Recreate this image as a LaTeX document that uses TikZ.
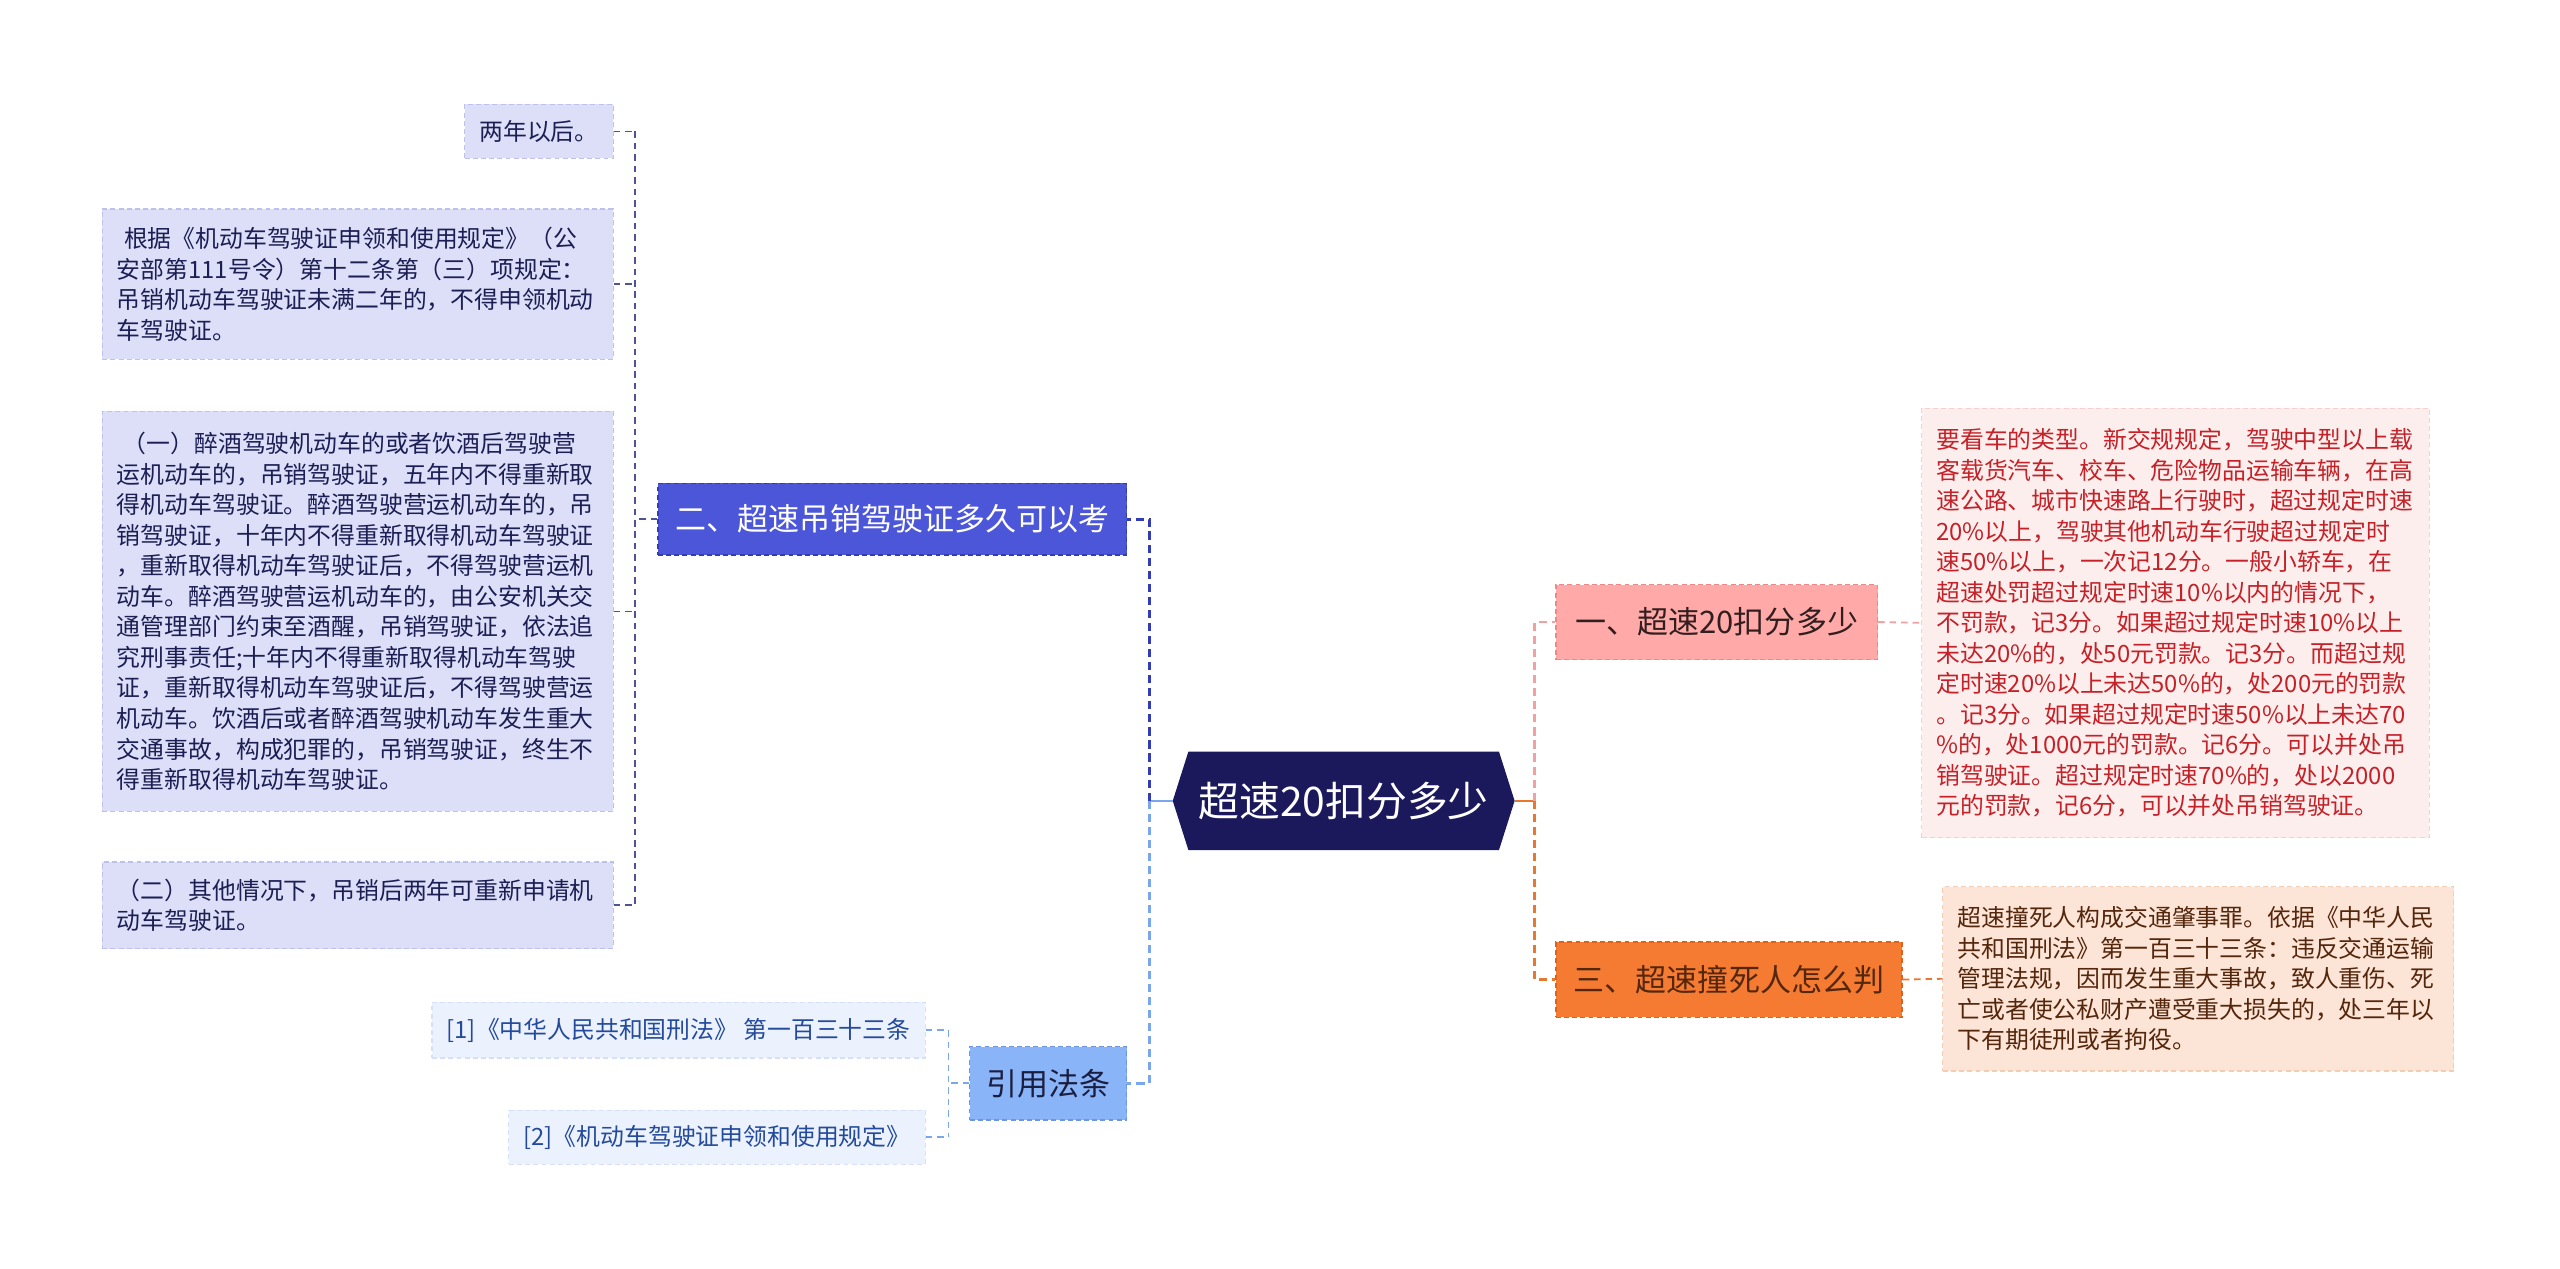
\documentclass[tikz,border=0pt]{standalone}
\usepackage{fontspec}
\usepackage{xcolor}
\usepackage{tikz}
\usetikzlibrary{calc,backgrounds}
\newfontfamily\cjk{Noto Sans CJK SC}
\definecolor{mapNavy}{RGB}{27,25,91}
\definecolor{mapBlue}{RGB}{76,86,216}
\definecolor{mapBlueDark}{RGB}{50,60,180}
\definecolor{mapBracket}{RGB}{78,82,150}
\definecolor{mapLavender}{RGB}{221,223,248}
\definecolor{mapLavenderEdge}{RGB}{190,193,236}
\definecolor{mapInk}{RGB}{28,30,84}
\definecolor{mapSky}{RGB}{138,180,248}
\definecolor{mapSkyDark}{RGB}{108,150,228}
\definecolor{mapSkyLine}{RGB}{122,166,238}
\definecolor{mapSkyLight}{RGB}{235,242,253}
\definecolor{mapSkyEdge}{RGB}{212,225,248}
\definecolor{mapCiteInk}{RGB}{36,74,156}
\definecolor{mapPink}{RGB}{255,170,168}
\definecolor{mapPinkEdge}{RGB}{238,136,136}
\definecolor{mapPinkLine}{RGB}{240,162,162}
\definecolor{mapPinkLight}{RGB}{253,238,238}
\definecolor{mapPinkBorder}{RGB}{246,208,208}
\definecolor{mapRed}{RGB}{196,34,40}
\definecolor{mapOrange}{RGB}{245,123,51}
\definecolor{mapOrangeEdge}{RGB}{222,98,28}
\definecolor{mapOrangeLine}{RGB}{230,120,48}
\definecolor{mapPeach}{RGB}{252,228,214}
\definecolor{mapPeachEdge}{RGB}{245,204,180}
\definecolor{mapBrown}{RGB}{84,38,12}
\definecolor{mapDark}{RGB}{50,30,30}
\definecolor{mapDarkBlue}{RGB}{26,30,64}

\begin{document}
\begin{tikzpicture}[x=1pt, y=-1pt,
  every node/.style={font=\cjk},
  boxtext/.style={font={\cjk\fontsize{14.6pt}{18.7pt}\selectfont}, align=left, inner xsep=9pt, inner ysep=0pt, dash pattern=on 3pt off 2pt, line width=0.7pt},
  topic/.style={font={\cjk\fontsize{19pt}{23pt}\selectfont}, inner sep=0pt, dash pattern=on 3pt off 2pt, line width=0.8pt},
  leafL/.style={boxtext, fill=mapLavender, draw=mapLavenderEdge, text=mapInk, anchor=east},
  leafC/.style={boxtext, fill=mapSkyLight, draw=mapSkyEdge, text=mapCiteInk, anchor=east},
  twig/.style={dash pattern=on 4pt off 3pt, line width=1.1pt},
  trunkline/.style={dash pattern=on 5pt off 3pt, line width=1.6pt}]
\useasboundingbox (0,0) rectangle (1568,777);

\node[leafL, minimum height=33pt] (c1) at (376,80.5) {两年以后。};
\node[leafL, text width=295pt, minimum height=92pt] (c2) at (376,174) {\hspace*{0.3em}根据《机动车驾驶证申领和使用规定》（公\\安部第111号令）第十二条第（三）项规定：\\吊销机动车驾驶证未满二年的，不得申领机动\\车驾驶证。};
\node[leafL, text width=295pt, minimum height=245pt] (c3) at (376,374.5) {\hspace*{0.25em}（一）醉酒驾驶机动车的或者饮酒后驾驶营\\运机动车的，吊销驾驶证，五年内不得重新取\\得机动车驾驶证。醉酒驾驶营运机动车的，吊\\销驾驶证，十年内不得重新取得机动车驾驶证\\，重新取得机动车驾驶证后，不得驾驶营运机\\动车。醉酒驾驶营运机动车的，由公安机关交\\通管理部门约束至酒醒，吊销驾驶证，依法追\\究刑事责任;十年内不得重新取得机动车驾驶\\证，重新取得机动车驾驶证后，不得驾驶营运\\机动车。饮酒后或者醉酒驾驶机动车发生重大\\交通事故，构成犯罪的，吊销驾驶证，终生不\\得重新取得机动车驾驶证。};
\node[leafL, text width=295pt, minimum height=53pt] (c4) at (376,554.5) {（二）其他情况下，吊销后两年可重新申请机\\动车驾驶证。};

\node[topic, fill=mapBlue, draw=mapBlueDark, text=white, minimum width=287pt, minimum height=44pt] (er) at (546.5,318) {二、超速吊销驾驶证多久可以考};

\node[font={\cjk\fontsize{25pt}{30pt}\selectfont}, text=white, minimum width=209pt, minimum height=60pt, inner sep=0pt] (ctr) at (823,490.5) {超速20扣分多少};
\begin{pgfonlayer}{background}
  \fill[white] (0,0) rectangle (1568,777);
  \fill[mapNavy] (ctr.west) -- ([xshift=9.6pt]ctr.north west) -- ([xshift=-9.6pt]ctr.north east) -- (ctr.east) -- ([xshift=-9.6pt]ctr.south east) -- ([xshift=9.6pt]ctr.south west) -- cycle;
\end{pgfonlayer}

\node[topic, fill=mapSky, draw=mapSkyDark, text=mapDarkBlue, minimum width=96pt, minimum height=45pt] (cite) at (642,663.5) {引用法条};
\node[leafC, minimum height=34pt] (r1) at (567,631) {[1]《中华人民共和国刑法》 第一百三十三条};
\node[leafC, minimum height=33pt] (r2) at (567,696.5) {[2]《机动车驾驶证申领和使用规定》};

\node[topic, fill=mapPink, draw=mapPinkEdge, text=mapDark, minimum width=197pt, minimum height=46pt] (one) at (1051.5,381) {一、超速20扣分多少};
\node[boxtext, fill=mapPinkLight, draw=mapPinkBorder, text=mapRed, text width=293pt, minimum height=263pt] (oneText) at (1332.5,381.5) {要看车的类型。新交规规定，驾驶中型以上载\\客载货汽车、校车、危险物品运输车辆，在高\\速公路、城市快速路上行驶时，超过规定时速\\20\%以上，驾驶其他机动车行驶超过规定时\\速50\%以上，一次记12分。一般小轿车，在\\超速处罚超过规定时速10\%以内的情况下，\\不罚款，记3分。如果超过规定时速10\%以上\\未达20\%的，处50元罚款。记3分。而超过规\\定时速20\%以上未达50\%的，处200元的罚款\\。记3分。如果超过规定时速50\%以上未达70\\\%的，处1000元的罚款。记6分。可以并处吊\\销驾驶证。超过规定时速70\%的，处以2000\\元的罚款，记6分，可以并处吊销驾驶证。};

\node[topic, fill=mapOrange, draw=mapOrangeEdge, text=mapBrown, minimum width=212pt, minimum height=46pt] (three) at (1059,600) {三、超速撞死人怎么判};
\node[boxtext, fill=mapPeach, draw=mapPeachEdge, text=mapBrown, text width=295pt, minimum height=113pt] (threeText) at (1346.5,599.5) {超速撞死人构成交通肇事罪。依据《中华人民\\共和国刑法》第一百三十三条：违反交通运输\\管理法规，因而发生重大事故，致人重伤、死\\亡或者使公私财产遭受重大损失的，处三年以\\下有期徒刑或者拘役。};

\coordinate (lb) at (389,318);
\coordinate (cb) at (581,663.5);
\coordinate (tl) at (704,490.5);
\coordinate (tr) at (940,490.5);

\draw[twig, mapBracket] (er.west) -- (lb);
\draw[twig, mapBracket] (c1.east -| lb) -- (c4.east -| lb);
\foreach \c in {c1,c2,c3,c4}
  \draw[twig, mapBracket] (\c.east) -- (\c.east -| lb);
\draw[twig, mapSkyLine] (cite.west) -- (cb);
\draw[twig, mapSkyLine] (r1.east -| cb) -- (r2.east -| cb);
\foreach \c in {r1,r2}
  \draw[twig, mapSkyLine] (\c.east) -- (\c.east -| cb);

\draw[line width=1.6pt, mapSkyLine] (ctr.west) -- (tl);
\draw[trunkline, mapBlueDark] (tl) |- (er.east);
\draw[trunkline, mapSkyLine] (tl) |- (cite.east);
\draw[line width=1.6pt, mapOrangeLine] (ctr.east) -- (tr);
\draw[trunkline, mapPinkLine] (tr) |- (one.west);
\draw[trunkline, mapOrangeLine] (tr) |- (three.west);
\draw[twig, mapPinkLine] (one.east) -- (oneText.west);
\draw[twig, mapOrangeLine] (three.east) -- (threeText.west);
\end{tikzpicture}
\end{document}
